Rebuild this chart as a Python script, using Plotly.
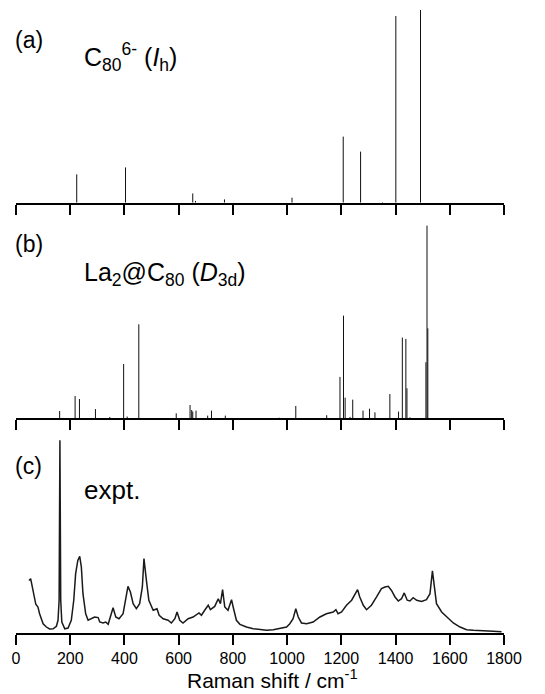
import plotly.graph_objects as go

# ---------------- data ----------------
tick_vals = [0, 200, 400, 600, 800, 1000, 1200, 1400, 1600, 1800]
tick_text = ["0", "200", "400", "600", "800", "1000", "1200", "1400", "1600", "1800"]

# (a) C80^6- (Ih) calculated Raman lines (relative intensity)
c80_pos = [224, 404, 652, 662, 769, 1018, 1207, 1271, 1352, 1401, 1492]
c80_int = [14.7, 18.3, 4.8, 0.9, 1.7, 2.6, 34.3, 26.5, 0.3, 96.9, 100.0]

# (b) La2@C80 (D3d) calculated Raman lines (relative intensity)
la2_pos = [161, 218, 234, 293, 346, 397, 410, 453, 591, 642, 648, 652, 664, 707,
           721, 772, 971, 1032, 1146, 1195, 1208, 1214, 1232, 1242, 1280, 1304,
           1324, 1379, 1411, 1425, 1438, 1442, 1453, 1512, 1516, 1519]
la2_int = [3.8, 11.6, 10.0, 4.8, 0.7, 28.2, 0.9, 48.8, 2.6, 6.9, 4.3, 3.5, 4.0, 1.4,
           4.0, 1.4, 0.3, 6.4, 1.6, 21.5, 53.3, 10.7, 0.7, 9.7, 4.0, 5.0,
           3.1, 12.6, 3.5, 41.9, 41.2, 15.6, 0.5, 29.1, 100.0, 46.7]

# (c) experimental spectrum (relative intensity)
expt_x = [48, 54, 59, 66, 73, 81, 87, 100, 112, 124, 137, 149, 155, 159, 162, 165,
          169, 180, 192, 204, 213, 220, 228, 235, 241, 247, 257, 266, 278, 290, 303,
          309, 321, 331, 340, 352, 358, 368, 380, 395, 405, 413, 422, 432, 444, 456,
          466, 472, 481, 490, 506, 520, 528, 543, 561, 573, 586, 594, 604, 616, 635,
          653, 675, 684, 696, 709, 717, 733, 746, 754, 762, 770, 782, 795, 801, 813,
          826, 850, 875, 899, 924, 949, 973, 998, 1010, 1022, 1032, 1041, 1053, 1072,
          1096, 1121, 1145, 1170, 1180, 1188, 1201, 1219, 1238, 1250, 1260, 1268,
          1281, 1293, 1311, 1330, 1348, 1361, 1373, 1385, 1398, 1410, 1422, 1432,
          1443, 1453, 1465, 1478, 1496, 1514, 1527, 1536, 1542, 1551, 1570, 1589,
          1613, 1638, 1662, 1687, 1724, 1760, 1791]
expt_y = [27.3, 28.2, 24.7, 18.7, 14.9, 13.5, 10.0, 4.8, 3.1, 2.1, 2.2, 3.5, 6.6, 17.0,
          100.0, 17.0, 5.7, 2.2, 2.6, 6.6, 17.0, 30.8, 37.7, 39.8, 34.3, 20.4, 10.0,
          6.6, 7.4, 8.3, 8.0, 5.7, 5.2, 5.7, 4.5, 10.0, 13.1, 8.3, 7.4, 10.0, 18.7,
          24.2, 21.3, 15.2, 12.6, 15.2, 23.9, 38.6, 27.3, 17.0, 11.8, 12.6, 9.2, 7.4,
          6.6, 5.2, 7.4, 10.9, 6.6, 5.2, 7.4, 8.3, 10.4, 9.2, 11.8, 14.4, 12.1, 13.8,
          17.8, 15.2, 22.5, 13.5, 11.8, 17.3, 13.5, 6.6, 4.5, 3.1, 2.2, 1.7, 1.4, 1.7,
          2.2, 3.1, 4.8, 7.4, 12.6, 8.3, 5.2, 4.8, 5.7, 8.3, 10.0, 10.9, 12.1, 10.0,
          10.9, 14.4, 17.0, 20.4, 22.5, 18.7, 14.4, 12.1, 14.4, 18.7, 23.0, 23.9, 24.2,
          22.1, 18.7, 16.6, 17.8, 20.8, 17.0, 16.6, 18.3, 17.0, 16.4, 17.3, 20.4, 32.2,
          23.9, 15.2, 10.9, 8.3, 5.2, 3.1, 1.7, 1.4, 1.0, 0.9, 0.7]

panel_labels = ["(a)", "(b)", "(c)"]
panel_names = ["C<sub>80</sub><sup>6-</sup> (<i>I</i><sub>h</sub>)",
               "La<sub>2</sub>@C<sub>80</sub> (<i>D</i><sub>3d</sub>)",
               "expt."]
x_title = "Raman shift / cm<sup>-1</sup>"


def sticks(pos, inten):
    xs, ys = [], []
    for p, h in zip(pos, inten):
        xs += [p, p, None]
        ys += [0, h, None]
    return xs, ys


FONT = "Liberation Sans, Arial, sans-serif"

fig = go.Figure()
xa, ya = sticks(c80_pos, c80_int)
fig.add_trace(go.Scatter(x=xa, y=ya, mode="lines", line=dict(color="#111111", width=1),
                         xaxis="x", yaxis="y", hoverinfo="skip", showlegend=False))
xb, yb = sticks(la2_pos, la2_int)
fig.add_trace(go.Scatter(x=xb, y=yb, mode="lines", line=dict(color="#111111", width=1),
                         xaxis="x2", yaxis="y2", hoverinfo="skip", showlegend=False))
fig.add_trace(go.Scatter(x=expt_x, y=expt_y, mode="lines", line=dict(color="#1a1a1a", width=1.5),
                         xaxis="x3", yaxis="y3", hoverinfo="skip", showlegend=False))

common_x = dict(range=[0, 1800], tickvals=tick_vals, ticktext=tick_text, ticks="outside",
                ticklen=10, tickwidth=2, tickcolor="black", showline=True, linewidth=2,
                linecolor="black", showgrid=False, zeroline=False, domain=[0, 1])
common_y = dict(range=[0, 101.04], visible=False, showgrid=False, zeroline=False)

fig.update_layout(
    width=537, height=686,
    margin=dict(l=8, r=41, t=0, b=61),
    paper_bgcolor="white", plot_bgcolor="white",
    font=dict(family=FONT, color="black"),
    xaxis=dict(**common_x, anchor="y", showticklabels=False),
    yaxis=dict(**common_y, domain=[0.6885, 1.0]),
    xaxis2=dict(**common_x, anchor="y2", showticklabels=False),
    yaxis2=dict(**common_y, domain=[0.3435, 0.6550]),
    xaxis3=dict(**common_x, anchor="y3", showticklabels=True,
                tickfont=dict(family=FONT, size=16, color="black")),
    yaxis3=dict(**common_y, domain=[0.0, 0.3115]),
)

label_y = [0.9488, 0.6224, 0.2672]
name_y = [0.9224, 0.5739, 0.2288]
name_size = [25, 25, 26]
for lab, ly in zip(panel_labels, label_y):
    fig.add_annotation(text=lab, xref="paper", yref="paper", x=-0.006, y=ly,
                       xanchor="left", yanchor="middle", showarrow=False,
                       font=dict(family=FONT, size=23, color="black"))
for nm, ny, ns in zip(panel_names, name_y, name_size):
    fig.add_annotation(text=nm, xref="paper", yref="paper", x=0.135, y=ny,
                       xanchor="left", yanchor="middle", showarrow=False,
                       font=dict(family=FONT, size=ns, color="black"))

fig.add_annotation(text=x_title, xref="paper", yref="paper", x=0.525, y=-0.0976,
                   xanchor="center", yanchor="bottom", showarrow=False,
                   font=dict(family=FONT, size=21, color="black"))

fig.write_html("out.html")
